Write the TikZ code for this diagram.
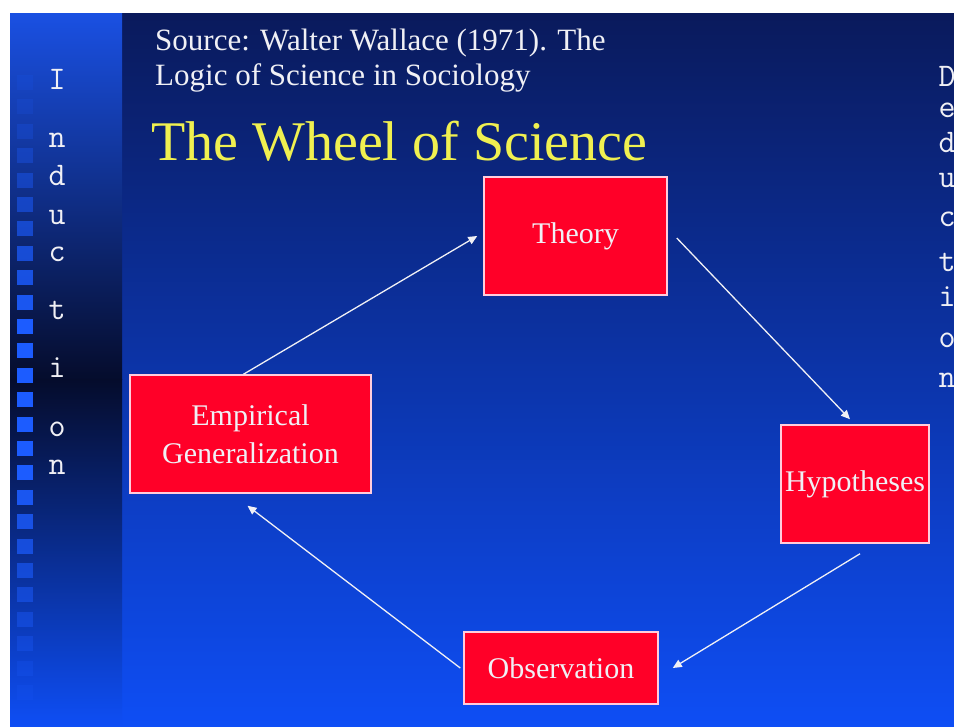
\documentclass[tikz,border=0pt]{standalone}
\usepackage{fontspec}
\setmainfont{Liberation Serif}
\usepackage{xcolor}
\usepackage{tikz}
\usetikzlibrary{arrows.meta,positioning,calc}
\definecolor{boxred}{RGB}{255,0,40}
\definecolor{boxrim}{RGB}{255,205,220}
\definecolor{navytop}{RGB}{10,26,92}
\definecolor{bluebot}{RGB}{14,78,245}
\definecolor{striptop}{RGB}{26,80,226}
\definecolor{stripdark}{RGB}{5,12,44}
\definecolor{sqblue}{RGB}{28,92,255}
\definecolor{titleyel}{RGB}{240,240,80}
\definecolor{txtwhite}{RGB}{240,240,245}
\tikzset{
  stage/.style={draw=boxrim,line width=1.5pt,fill=boxred,text=txtwhite,align=center,font=\fontsize{30}{38}\selectfont,inner sep=0pt},
  arr/.style={-{Triangle[length=9pt,width=8pt]},draw=txtwhite,line width=1.3pt},
  vlet/.style={text=txtwhite,font=\ttfamily\fontsize{33}{33}\selectfont,anchor=base,inner sep=0pt},
  src/.style={text=txtwhite,font=\fontsize{31}{35}\selectfont,anchor=base west,inner sep=0pt},
}

\begin{document}
\begin{tikzpicture}[x=1pt,y=-1pt]
\useasboundingbox (0,0) rectangle (954,727);
\clip (0,0) rectangle (954,727);
\fill[white] (0,0) rectangle (954,727);
\shade[top color=navytop,bottom color=bluebot] (122,14) rectangle (954,727);
\shade[top color=striptop,bottom color=stripdark] (10,14) rectangle (122,380);
\shade[top color=stripdark,bottom color=bluebot] (10,380) rectangle (122,727);
\foreach \k in {0,...,25} {
  \pgfmathsetmacro\yy{75+24.4*\k}
  \pgfmathsetmacro\op{min(1,max(0.15,1.3-abs(\yy-390)/250))}
  \fill[sqblue,opacity=\op] (17,\yy) rectangle +(16,15);
}
\node[src] (s1) at (155,51) {Source: Walter Wallace (1971). The};
\node[src] (s2) at (155,86) {Logic of Science in Sociology};
\node[anchor=base west,inner sep=0pt,text=titleyel,font=\fontsize{56}{60}\selectfont] (ti) at (151,161) {The Wheel of Science};
\foreach \c/\y in {I/90,n/148,d/186,u/225,c/262,t/320,i/378,o/437,n/475} \node[vlet] (in\y) at (57,\y) {\c};
\foreach \c/\y in {D/87,e/118,d/153,u/188,c/227,t/272,i/307,o/348,n/388} \node[vlet] (de\y) at (947,\y) {\c};
\node[stage,minimum width=183pt,minimum height=118pt] (th) at (575.5,236) {Theory};
\node[stage,minimum width=241pt,minimum height=118pt] (eg) at (250.5,434) {Empirical\\Generalization};
\node[stage,minimum width=148pt,minimum height=118pt] (hy) at (855,484) {Hypotheses};
\node[stage,minimum width=194pt,minimum height=72pt] (ob) at (561,668) {Observation};
\draw[arr] ([xshift=-7pt]eg.north) -- ([xshift=-6pt]th.west);
\draw[arr] ([shift={(9pt,-2pt)}]th.east) -- ([shift={(-5pt,5pt)}]hy.north);
\draw[arr] ([shift={(5pt,-10pt)}]hy.south) -- ([xshift=14pt]ob.east);
\draw[arr] ([xshift=-3pt]ob.west) -- ([shift={(-3pt,-12pt)}]eg.south);
\end{tikzpicture}
\end{document}
